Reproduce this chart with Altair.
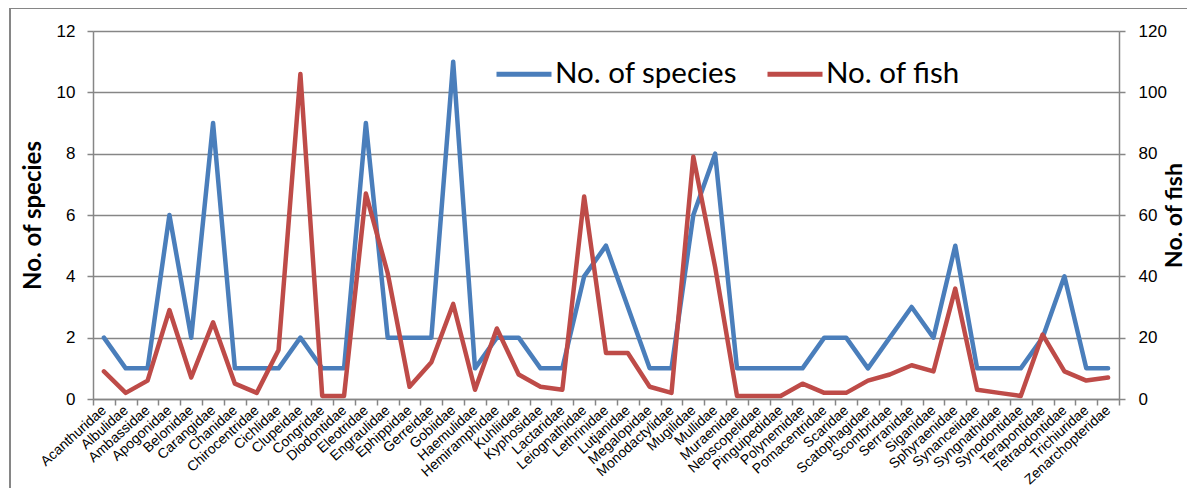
import altair as alt
import pandas as pd

families = ["Acanthuridae", "Albulidae", "Ambassidae", "Apogonidae", "Belonidae",
            "Carangidae", "Chanidae", "Chirocentridae", "Cichlidae", "Clupeidae",
            "Congridae", "Diodontidae", "Eleotridae", "Engraulidae", "Ephippidae",
            "Gerreidae", "Gobiidae", "Haemulidae", "Hemiramphidae", "Kuhliidae",
            "Kyphosidae", "Lactaridae", "Leiognathidae", "Lethrinidae", "Lutjanidae",
            "Megalopidae", "Monodactylidae", "Mugilidae", "Mullidae", "Muraenidae",
            "Neoscopelidae", "Pinguipedidae", "Polynemidae", "Pomacentridae", "Scaridae",
            "Scatophagidae", "Scombridae", "Serranidae", "Siganidae", "Sphyraenidae",
            "Synanceiidae", "Syngnathidae", "Synodontidae", "Terapontidae", "Tetraodontidae",
            "Trichiuridae", "Zenarchopteridae"]

species = [2, 1, 1, 6, 2, 9, 1, 1, 1, 2,
           1, 1, 9, 2, 2, 2, 11, 1, 2, 2,
           1, 1, 4, 5, 3, 1, 1, 6, 8, 1,
           1, 1, 1, 2, 2, 1, 2, 3, 2, 5,
           1, 1, 1, 2, 4, 1, 1]

fish = [9, 2, 6, 29, 7, 25, 5, 2, 16, 106,
        1, 1, 67, 41, 4, 12, 31, 3, 23, 8,
        4, 3, 66, 15, 15, 4, 2, 79, 43, 1,
        1, 1, 5, 2, 2, 6, 8, 11, 9, 36,
        3, 2, 1, 21, 9, 6, 7]

series_names = ["No. of species", "No. of fish"]
series_colors = ["#4A7EBB", "#BE4B48"]

df = pd.DataFrame({"family": families, "species": species, "fish": fish})

GRID = "#868686"
W, H = 1026, 368

color_scale = alt.Scale(domain=series_names, range=series_colors)

x_enc = alt.X(
    "family:N", sort=families, title=None, bandPosition=0.5,
    scale=alt.Scale(type="band", paddingInner=0, paddingOuter=0),
    axis=alt.Axis(tickBand="extent", labelAngle=318, labelAlign="right",
                  labelBaseline="middle", labelFont="Liberation Sans",
                  labelFontSize=14, labelColor="black", labelPadding=3,
                  tickSize=6, tickColor=GRID, domainColor=GRID, domainWidth=1.5,
                  tickWidth=1.5, grid=False, labelOverlap=False, labelLimit=0),
)

legend = alt.Legend(orient="none", legendX=401, legendY=13, direction="horizontal",
                    title=None, symbolType="stroke", symbolSize=3025,
                    symbolStrokeWidth=5, labelFont="Lato", labelFontSize=29.5,
                    labelColor="black", columnPadding=19, labelOffset=1,
                    padding=0, labelLimit=0)

species_line = alt.Chart(df).mark_line(strokeWidth=4.5, strokeJoin="round", strokeCap="round").encode(
    x=x_enc,
    y=alt.Y("species:Q", title="No. of species",
            scale=alt.Scale(domain=[0, 12], nice=False),
            axis=alt.Axis(orient="left", values=list(range(0, 13, 2)), grid=True,
                          gridColor=GRID, gridWidth=1.5, domainColor=GRID, domainWidth=1.5,
                          tickColor=GRID, tickWidth=1.5, tickSize=6, labelPadding=12,
                          labelFont="Liberation Sans", labelFontSize=17, labelColor="black",
                          titleFont="Lato", titleFontSize=24, titleFontWeight="bold",
                          titleColor="black", titleAngle=270, titleX=-60, titleY=H / 2,
                          titleAlign="center", titleBaseline="middle")),
    color=alt.Color("s:N", scale=color_scale, legend=legend),
).transform_calculate(s="'No. of species'")

fish_line = alt.Chart(df).mark_line(strokeWidth=4.5, strokeJoin="round", strokeCap="round").encode(
    x=x_enc,
    y=alt.Y("fish:Q", title="No. of fish",
            scale=alt.Scale(domain=[0, 120], nice=False),
            axis=alt.Axis(orient="right", values=list(range(0, 121, 20)), grid=False,
                          domainColor=GRID, domainWidth=1.5,
                          tickColor=GRID, tickWidth=1.5, tickSize=6, labelPadding=13,
                          labelFont="Liberation Sans", labelFontSize=17, labelColor="black",
                          titleFont="Lato", titleFontSize=23, titleFontWeight="bold",
                          titleColor="black", titleAngle=270, titleX=55, titleY=H / 2,
                          titleAlign="center", titleBaseline="middle")),
    color=alt.Color("s:N", scale=color_scale, legend=legend),
).transform_calculate(s="'No. of fish'")

frame_df = pd.DataFrame({"k": [0]})
frame_top = alt.Chart(frame_df).mark_rule(color=GRID, strokeWidth=2).encode(
    x=alt.value(-83), x2=alt.value(W + 80), y=alt.value(-23))
frame_left = alt.Chart(frame_df).mark_rule(color=GRID, strokeWidth=2).encode(
    x=alt.value(-83), y=alt.value(-23), y2=alt.value(H + 100))

chart = alt.layer(species_line, fish_line, frame_top, frame_left).resolve_scale(
    y="independent"
).properties(
    width=W, height=H,
    autosize=alt.AutoSizeParams(type="none"),
    padding={"left": 85, "top": 23, "right": 68, "bottom": 89},
).configure_view(stroke=None).configure(background="white")

chart.save("out.html", embed_options={"renderer": "svg", "actions": False})
